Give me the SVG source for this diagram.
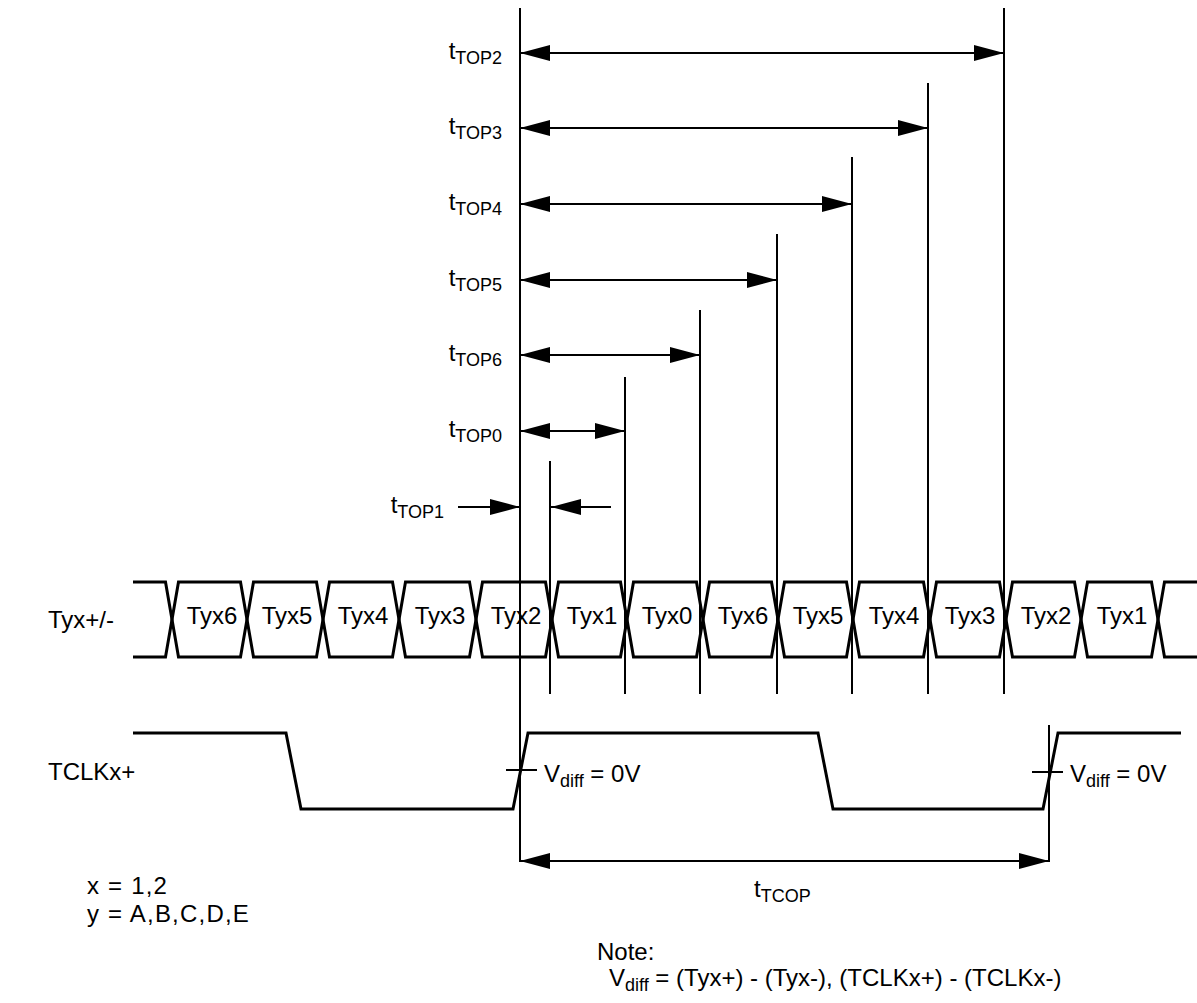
<svg xmlns="http://www.w3.org/2000/svg" width="1197" height="1003" viewBox="0 0 1197 1003">
<defs>
<marker id="ah" markerUnits="userSpaceOnUse" markerWidth="30" markerHeight="16" refX="30" refY="8" orient="auto-start-reverse" viewBox="0 0 30 16">
<path d="M0,0 L30,8 L0,16 z" fill="#000"/>
</marker>
<style>
text{font-family:"Liberation Sans",Arial,sans-serif;font-size:24px;fill:#000}
.sub{font-size:18px}
.vl{stroke:#000;stroke-width:2;fill:none}
.dim{stroke:#000;stroke-width:2;fill:none;marker-start:url(#ah);marker-end:url(#ah)}
.one{stroke:#000;stroke-width:2;fill:none;marker-end:url(#ah)}
.wave{stroke:#000;stroke-width:3;fill:none;stroke-linejoin:miter}
.bx{text-anchor:middle}
.wide{letter-spacing:1.2px}
</style>
</defs>
<rect width="1197" height="1003" fill="#fff"/>

<g id="guides">
<line class="vl" x1="520" y1="8" x2="520" y2="862"/>
<line class="vl" x1="1004" y1="8" x2="1004" y2="694"/>
<line class="vl" x1="928" y1="83" x2="928" y2="694"/>
<line class="vl" x1="852" y1="157" x2="852" y2="694"/>
<line class="vl" x1="777" y1="234" x2="777" y2="694"/>
<line class="vl" x1="700" y1="310" x2="700" y2="694"/>
<line class="vl" x1="625" y1="377" x2="625" y2="694"/>
<line class="vl" x1="550" y1="461" x2="550" y2="694"/>
<line class="vl" x1="1049" y1="725" x2="1049" y2="862"/>
<line class="vl" x1="506" y1="770" x2="537" y2="770"/>
<line class="vl" x1="1032" y1="772" x2="1063" y2="772"/>
</g>

<g id="connectors">
<line class="dim" x1="520" y1="53" x2="1004" y2="53"/>
<line class="dim" x1="520" y1="128" x2="928" y2="128"/>
<line class="dim" x1="520" y1="204" x2="852" y2="204"/>
<line class="dim" x1="520" y1="280" x2="777" y2="280"/>
<line class="dim" x1="520" y1="355" x2="700" y2="355"/>
<line class="dim" x1="520" y1="431" x2="625" y2="431"/>
<line class="one" x1="458" y1="507" x2="520" y2="507"/>
<line class="one" x1="611" y1="507" x2="551" y2="507"/>
<line class="dim" x1="520" y1="861" x2="1049" y2="861"/>
</g>

<g id="timing-labels">
<text x="502" y="59" text-anchor="end">t<tspan class="sub" dy="5">TOP2</tspan></text>
<text x="502" y="134" text-anchor="end">t<tspan class="sub" dy="5">TOP3</tspan></text>
<text x="502" y="210" text-anchor="end">t<tspan class="sub" dy="5">TOP4</tspan></text>
<text x="502" y="286" text-anchor="end">t<tspan class="sub" dy="5">TOP5</tspan></text>
<text x="502" y="361" text-anchor="end">t<tspan class="sub" dy="5">TOP6</tspan></text>
<text x="502" y="437" text-anchor="end">t<tspan class="sub" dy="5">TOP0</tspan></text>
<text x="444" y="513" text-anchor="end">t<tspan class="sub" dy="5">TOP1</tspan></text>
<text x="754" y="897">t<tspan class="sub" dy="5">TCOP</tspan></text>
</g>

<g id="bus">
<path class="wave" d="M133,582 H165.5 L172,619.5 L165.5,657 H133"/>
<polygon class="wave" points="172,619.5 178.5,582 240.5,582 247,619.5 240.5,657 178.5,657"/>
<polygon class="wave" points="247,619.5 253.5,582 316.5,582 323,619.5 316.5,657 253.5,657"/>
<polygon class="wave" points="323,619.5 329.5,582 392.5,582 399,619.5 392.5,657 329.5,657"/>
<polygon class="wave" points="399,619.5 405.5,582 469.5,582 476,619.5 469.5,657 405.5,657"/>
<polygon class="wave" points="476,619.5 482.5,582 545.5,582 552,619.5 545.5,657 482.5,657"/>
<polygon class="wave" points="552,619.5 558.5,582 620.5,582 627,619.5 620.5,657 558.5,657"/>
<polygon class="wave" points="627,619.5 633.5,582 696.5,582 703,619.5 696.5,657 633.5,657"/>
<polygon class="wave" points="703,619.5 709.5,582 771.5,582 778,619.5 771.5,657 709.5,657"/>
<polygon class="wave" points="778,619.5 784.5,582 846.5,582 853,619.5 846.5,657 784.5,657"/>
<polygon class="wave" points="853,619.5 859.5,582 923.5,582 930,619.5 923.5,657 859.5,657"/>
<polygon class="wave" points="930,619.5 936.5,582 999.5,582 1006,619.5 999.5,657 936.5,657"/>
<polygon class="wave" points="1006,619.5 1012.5,582 1074.5,582 1081,619.5 1074.5,657 1012.5,657"/>
<polygon class="wave" points="1081,619.5 1087.5,582 1151.5,582 1158,619.5 1151.5,657 1087.5,657"/>
<path class="wave" d="M1197,582 H1164.5 L1158,619.5 L1164.5,657 H1197"/>
<text class="bx" x="212" y="624">Tyx6</text>
<text class="bx" x="287" y="624">Tyx5</text>
<text class="bx" x="363" y="624">Tyx4</text>
<text class="bx" x="440" y="624">Tyx3</text>
<text class="bx" x="516" y="624">Tyx2</text>
<text class="bx" x="592" y="624">Tyx1</text>
<text class="bx" x="667" y="624">Tyx0</text>
<text class="bx" x="743" y="624">Tyx6</text>
<text class="bx" x="818" y="624">Tyx5</text>
<text class="bx" x="894" y="624">Tyx4</text>
<text class="bx" x="970" y="624">Tyx3</text>
<text class="bx" x="1046" y="624">Tyx2</text>
<text class="bx" x="1122" y="624">Tyx1</text>
</g>

<g id="clock">
<path class="wave" d="M133,733 H286 L301,809 H513 L528,733 H818 L833,809 H1043 L1058,733 H1181"/>
<text x="544" y="782">V<tspan class="sub" dy="5">diff</tspan><tspan dy="-5"> = 0V</tspan></text>
<text x="1070" y="782">V<tspan class="sub" dy="5">diff</tspan><tspan dy="-5"> = 0V</tspan></text>
</g>

<g id="signal-names">
<text x="48" y="628">Tyx+/-</text>
<text x="48" y="780">TCLKx+</text>
</g>

<g id="notes">
<text class="wide" x="87" y="894">x = 1,2</text>
<text class="wide" x="87" y="922">y = A,B,C,D,E</text>
<text x="597" y="960">Note:</text>
<text x="609" y="986">V<tspan class="sub" dy="5">diff</tspan><tspan dy="-5"> = (Tyx+) - (Tyx-), (TCLKx+) - (TCLKx-)</tspan></text>
</g>
</svg>
